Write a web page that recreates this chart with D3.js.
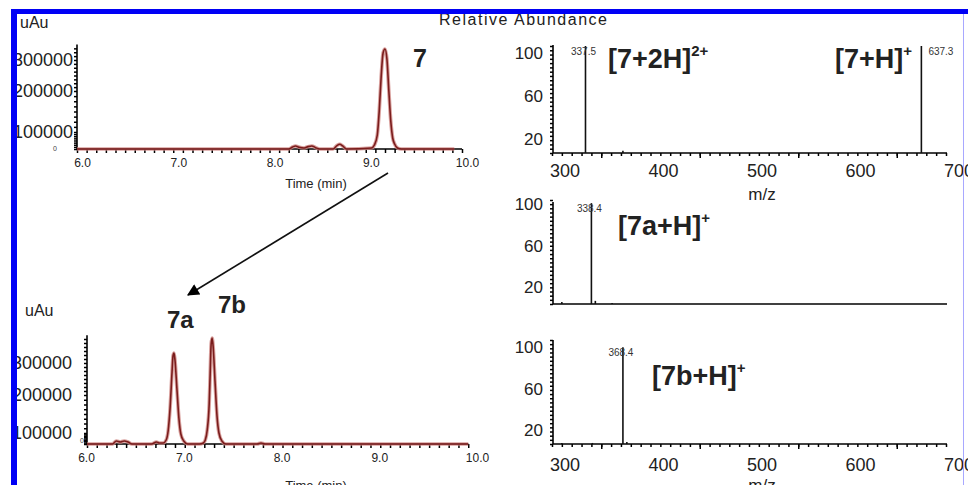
<!DOCTYPE html>
<html>
<head>
<meta charset="utf-8">
<script src="https://cdn.jsdelivr.net/npm/d3@7"></script>
<style>
body { margin: 0; background: #fff; }
svg { display: block; font-family: "Liberation Sans", Arial, sans-serif; }
</style>
</head>
<body>
<div id="chart"></div>
<script>
// ---- data ----
var timeTicks = [6.0, 7.0, 8.0, 9.0, 10.0];
var uauTicks = [100000, 200000, 300000];
var mzTicks = [300, 400, 500, 600, 700];
var abundTicks = [20, 60, 100];

// chromatogram of 7 (time in min, absorbance in uAu)
var trace7Time = [6.00, 8.20, 8.24, 8.27, 8.31, 8.36, 8.40, 8.44, 8.48, 8.52, 8.66, 8.70, 8.73, 8.76, 8.80,
                  9.06, 9.09, 9.12, 9.14, 9.16, 9.18, 9.20, 9.22, 9.24, 9.26, 9.28, 9.30, 9.33, 9.37, 9.92];
var trace7Abs  = [0, 0, 12000, 18000, 10000, 6000, 14000, 18000, 8000, 0, 0, 20000, 28000, 18000, 0,
                  5900, 23500, 82400, 151200, 245200, 322600, 335500, 303200, 200000, 126800, 64700, 29400, 5900, 0, 0];

// chromatogram of 7a / 7b
var traceABTime = [6.00, 6.26, 6.30, 6.34, 6.38, 6.42, 6.46, 6.66, 6.71, 6.74,
                   6.78, 6.81, 6.83, 6.85, 6.87, 6.88, 6.89, 6.90, 6.92, 6.94, 6.96, 6.99, 7.03,
                   7.15, 7.19, 7.21, 7.23, 7.25, 7.26, 7.27, 7.28, 7.29, 7.31, 7.33, 7.35, 7.38, 7.42,
                   7.74, 7.78, 7.82, 9.90];
var traceABAbs  = [0, 0, 27300, 18200, 27300, 18200, 0, 0, 18200, 9100,
                   9100, 36400, 105300, 165800, 271900, 321900, 331300, 309400, 218800, 139500, 90900, 27300, 0,
                   0, 9100, 36400, 107900, 176300, 265600, 359400, 378100, 353100, 240600, 144700, 100000, 27300, 0,
                   0, 9100, 0, 0];

// mass spectra (m/z, relative abundance)
var spec7Mz = [334, 372, 675];
var spec7Int = [100, 2, 100];
var spec7Labels = ["337.5", "", "637.3"];

var spec7aMz = [310, 340, 344, 361];
var spec7aInt = [2, 97, 3, 1];
var spec7aLabels = ["", "338.4", "", ""];

var spec7bMz = [310, 341, 372, 376];
var spec7bInt = [1, 1, 93, 2];
var spec7bLabels = ["", "", "368.4", ""];

// ---- drawing ----
var W = 968, H = 485;
var svg = d3.select("#chart").append("svg")
    .attr("width", W)
    .attr("height", H);

svg.append("defs").append("marker")
    .attr("id", "arrowhead")
    .attr("viewBox", "0 0 10 10")
    .attr("refX", 9).attr("refY", 5)
    .attr("markerWidth", 16).attr("markerHeight", 12)
    .attr("markerUnits", "userSpaceOnUse")
    .attr("orient", "auto")
    .append("path").attr("d", "M0,0L10,5L0,10Z").attr("fill", "#000");

function minorTicks(s) {
    s.select(".domain").remove();
    s.selectAll("line").attr("stroke", "#000").attr("stroke-width", 1.5);
}

function drawChrom(o) {
    var x = d3.scaleLinear().domain([6, 10]).range([o.x0, o.x1]);
    // the printed y axis is not evenly spaced, so a piecewise scale is used
    var y = d3.scaleLinear().domain([0, 100000, 200000, 300000]).range(o.yRange);
    var g = svg.append("g");

    // minor ticks along x
    g.append("g")
        .attr("transform", "translate(0," + y(0) + ")")
        .call(d3.axisBottom(x).tickValues(d3.range(6, o.xEnd + 0.001, 0.1)).tickSize(4).tickFormat(""))
        .call(minorTicks);

    // x labels
    g.append("g")
        .attr("transform", "translate(0," + y(0) + ")")
        .call(d3.axisBottom(x).tickValues(timeTicks).tickSize(0).tickPadding(9).tickFormat(d3.format(".1f")))
        .call(function(s) {
            s.select(".domain").remove();
            s.selectAll("text").attr("font-size", 12).attr("fill", "#222").attr("dx", o.labelDx)
                .attr("font-family", "'Liberation Sans', Arial, sans-serif");
        });

    // y minor ticks
    g.append("g")
        .attr("transform", "translate(" + x(6) + ",0)")
        .call(d3.axisLeft(y).tickValues(d3.range(0, o.yMax, 12500)).tickSize(3).tickFormat(""))
        .call(minorTicks);

    // axis lines
    g.append("line")
        .attr("x1", x(6)).attr("x2", x(o.xEnd))
        .attr("y1", y(0)).attr("y2", y(0))
        .attr("stroke", "#000").attr("stroke-width", 1.6);
    g.append("line")
        .attr("x1", x(6)).attr("x2", x(6))
        .attr("y1", y(0)).attr("y2", y(o.yMax))
        .attr("stroke", "#000").attr("stroke-width", 1.6);

    // y labels
    g.selectAll(".ylab").data(uauTicks).enter().append("text")
        .attr("x", x(6) - o.labelGap)
        .attr("y", function(d) { return y(d); })
        .attr("dy", "0.36em")
        .attr("text-anchor", "end")
        .attr("font-size", 18)
        .attr("fill", "#222")
        .text(function(d) { return d; });
    g.append("text")
        .attr("x", x(6) + o.zeroDx).attr("y", y(0) + o.zeroDy)
        .attr("text-anchor", "middle")
        .attr("font-size", 7).attr("fill", "#444")
        .text("0");

    // trace
    var line = d3.line()
        .curve(d3.curveMonotoneX)
        .x(function(d) { return x(d[0]); })
        .y(function(d) { return y(d[1]); });
    var pts = d3.zip(o.time, o.abs);
    g.append("path").datum(pts)
        .attr("d", line).attr("fill", "none")
        .attr("stroke", "#d08a86").attr("stroke-width", 3.6).attr("stroke-opacity", 0.8);
    g.append("path").datum(pts)
        .attr("d", line).attr("fill", "none")
        .attr("stroke", "#7a1c1c").attr("stroke-width", 1.6);

    svg.append("text").attr("x", o.uauX).attr("y", o.uauY)
        .attr("font-size", 16).attr("fill", "#222").text("uAu");
    svg.append("text").attr("x", 316).attr("y", o.timeY)
        .attr("text-anchor", "middle").attr("font-size", 13).attr("fill", "#222").text("Time (min)");
}

drawChrom({ x0: 77, x1: 462, xEnd: 10, labelDx: 5, yRange: [149, 132, 91, 60], yMax: 350000,
            labelGap: 4, zeroDx: -22, zeroDy: 2, uauX: 20, uauY: 28, timeY: 188,
            time: trace7Time, abs: trace7Abs });
drawChrom({ x0: 87, x1: 478, xEnd: 9.9, labelDx: -1, yRange: [444, 433, 395, 363], yMax: 387000,
            labelGap: 15, zeroDx: -5, zeroDy: -1, uauX: 25, uauY: 316, timeY: 490,
            time: traceABTime, abs: traceABAbs });

function drawSpec(o) {
    var x = d3.scaleLinear().domain([300, 700]).range([552, 946]);
    var y = d3.scaleLinear().domain([0, 100]).range([o.y0, o.y100]);
    var g = svg.append("g");

    if (o.xTicks) {
        g.append("g")
            .attr("transform", "translate(0," + y(0) + ")")
            .call(d3.axisBottom(x).tickValues(d3.range(300, 701, 10)).tickSize(3).tickFormat(""))
            .call(minorTicks);
        g.append("g")
            .attr("transform", "translate(0," + y(0) + ")")
            .call(d3.axisBottom(x).tickValues(d3.range(350, 701, 100)).tickSize(5).tickFormat(""))
            .call(minorTicks);
        g.selectAll(".xlab").data(mzTicks).enter().append("text")
            .attr("x", function(d) { return x(d) - 2; })
            .attr("y", o.xLabY)
            .attr("font-size", 18).attr("fill", "#222")
            .text(function(d) { return d; });
        svg.append("text").attr("x", 762).attr("y", o.mzY)
            .attr("text-anchor", "middle").attr("font-size", 17).attr("fill", "#222").text("m/z");
    }

    g.append("g")
        .attr("transform", "translate(553,0)")
        .call(d3.axisLeft(y).tickValues(d3.range(0, 101, 4)).tickSize(3).tickFormat(""))
        .call(minorTicks);

    g.append("line")
        .attr("x1", 553).attr("x2", 947).attr("y1", y(0)).attr("y2", y(0))
        .attr("stroke", "#000").attr("stroke-width", 1.6);
    g.append("line")
        .attr("x1", 553).attr("x2", 553).attr("y1", y(0)).attr("y2", o.axisTop)
        .attr("stroke", "#000").attr("stroke-width", 1.6);

    g.selectAll(".ylab").data(abundTicks).enter().append("text")
        .attr("x", 543).attr("y", function(d) { return y(d) + o.labDy; })
        .attr("dy", "0.36em").attr("text-anchor", "end")
        .attr("font-size", 17).attr("fill", "#222")
        .text(function(d) { return d; });

    var pts = d3.zip(o.mz, o.inten, o.labels);
    g.selectAll(".stick").data(pts).enter().append("line")
        .attr("x1", function(d) { return x(d[0]); })
        .attr("x2", function(d) { return x(d[0]); })
        .attr("y1", y(0))
        .attr("y2", function(d) { return y(d[1]); })
        .attr("stroke", "#111").attr("stroke-width", 1.6);
    g.selectAll(".plab").data(pts.filter(function(d) { return d[2]; })).enter().append("text")
        .attr("x", function(d) { return x(d[0]) + (d[0] > 600 ? 7 : -2); })
        .attr("y", function(d) { return y(d[1]) + 9; })
        .attr("text-anchor", function(d) { return d[0] > 600 ? "start" : "middle"; })
        .attr("font-size", 10).attr("fill", "#333")
        .text(function(d) { return d[2]; });
}

drawSpec({ y0: 153, y100: 46, axisTop: 45, labDy: 7, xTicks: true, xLabY: 177, mzY: 200,
           mz: spec7Mz, inten: spec7Int, labels: spec7Labels });
drawSpec({ y0: 304, y100: 200, axisTop: 202, labDy: 4, xTicks: false,
           mz: spec7aMz, inten: spec7aInt, labels: spec7aLabels });
drawSpec({ y0: 444, y100: 340, axisTop: 340, labDy: 7, xTicks: true, xLabY: 471, mzY: 491,
           mz: spec7bMz, inten: spec7bInt, labels: spec7bLabels });

// annotations
function ion(x, y, main, sup) {
    var t = svg.append("text").attr("x", x).attr("y", y)
        .attr("font-size", 27).attr("font-weight", "bold").attr("fill", "#222");
    t.append("tspan").text(main);
    t.append("tspan").attr("font-size", 15).attr("dy", -12).text(sup);
}
ion(608, 68, "[7+2H]", "2+");
ion(835, 68, "[7+H]", "+");
ion(618, 235, "[7a+H]", "+");
ion(652, 385, "[7b+H]", "+");

svg.append("text").attr("x", 413).attr("y", 67).attr("font-size", 25).attr("font-weight", "bold").attr("fill", "#222").text("7");
svg.append("text").attr("x", 167).attr("y", 328).attr("font-size", 24).attr("font-weight", "bold").attr("fill", "#222").text("7a");
svg.append("text").attr("x", 218).attr("y", 313).attr("font-size", 24).attr("font-weight", "bold").attr("fill", "#222").text("7b");

svg.append("text").attr("x", 523).attr("y", 25).attr("text-anchor", "middle")
    .attr("font-size", 16).attr("fill", "#222")
    .attr("textLength", 168).attr("lengthAdjust", "spacing")
    .text("Relative Abundance");

svg.append("line")
    .attr("x1", 388).attr("y1", 173).attr("x2", 188).attr("y2", 295)
    .attr("stroke", "#111").attr("stroke-width", 1.6)
    .attr("marker-end", "url(#arrowhead)");

// blue frame
svg.append("rect").attr("x", 11).attr("y", 9).attr("width", W - 11).attr("height", 5).attr("fill", "#0000f5");
svg.append("rect").attr("x", 11).attr("y", 9).attr("width", 6).attr("height", H - 9).attr("fill", "#0000f5");
svg.append("rect").attr("x", 963).attr("y", 14).attr("width", 1).attr("height", H - 14).attr("fill", "#a8a8ff");
</script>
</body>
</html>
